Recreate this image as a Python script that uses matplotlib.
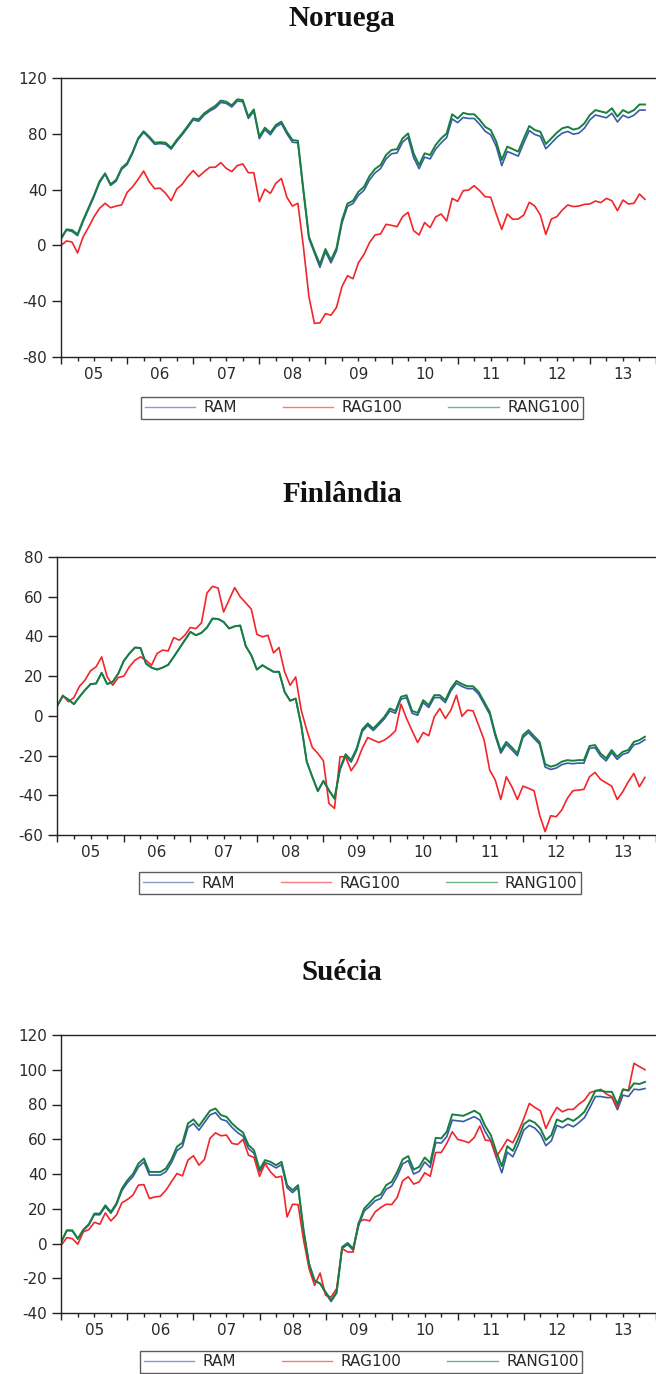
import matplotlib
matplotlib.use("Agg")
import matplotlib.pyplot as plt
import numpy as np

# ---------------- data (monthly, Jan 2005 onwards) ----------------
years = ["05", "06", "07", "08", "09", "10", "11", "12", "13"]
series_names = ["RAM", "RAG100", "RANG100"]

nor_ram = [4.5, 11, 10, 7, 17, 26, 35, 45, 51, 43, 46, 54.5, 58, 66, 76, 81, 77, 72.5, 73, 72.5,
           69, 74.5, 79.3, 84.5, 90, 89, 93.5, 96.3, 98.5, 102.5, 101.8, 99.2, 103.5, 103, 91, 96.3,
           76.5, 83, 79.3, 85, 87.3, 80, 74, 73.5, 38.5, 5, -5.5, -15.7, -4.5, -12.5, -4, 16, 28, 30,
           36, 39.5, 47, 52, 55, 62, 65.7, 66.3, 74, 77.5, 63, 55, 63.3, 62, 69, 73.5, 77.3, 90.7,
           88, 91.7, 91, 91, 86.8, 81.8, 79.3, 71, 57.2, 67.3, 65.7, 64, 73.5, 82.3, 79.5, 78.2,
           69.3, 73.3, 77.5, 80.5, 81.7, 79.7, 80.5, 84, 90, 93.5, 92.5, 91.5, 94.7, 88.5, 93.3,
           91.5, 93.3, 97, 97]
nor_rag100 = [0, 3.2, 2.4, -5.4, 6, 13, 20.6, 26.6, 30.2, 27, 28.2, 29, 38, 42, 47.4, 53.3, 45.7,
              40.7, 41, 37.3, 32, 40.4, 43.8, 49.3, 53.6, 49.3, 52.9, 56, 56, 59.3, 55.2, 52.9, 57.2,
              58.4, 52.1, 52.1, 31.4, 40.3, 37.3, 44.5, 48, 34.5, 28.2, 30.2, -1, -36.7, -55.9, -55.5,
              -49, -50, -44.5, -29.6, -21.7, -23.9, -12.4, -6.4, 2, 7.5, 8.2, 15.1, 14.4, 13.4, 20.6,
              23.7, 10.6, 7.5, 16.4, 12.8, 20.4, 22.5, 17.5, 33.7, 31.6, 39.2, 39.7, 42.8, 39.2, 34.9,
              34.5, 22.5, 11.5, 22.5, 18.7, 18.9, 21.8, 30.9, 28.2, 21.8, 7.9, 18.9, 20.6, 25.4, 29,
              27.8, 28.2, 29.4, 29.7, 31.8, 30.7, 33.7, 32, 24.9, 32.5, 29.7, 30.2, 36.8, 33]
nor_rang100 = [5, 11.5, 11, 8, 18, 27, 36, 46, 51.7, 43.8, 47, 55.5, 59, 67, 76.8, 81.8, 78, 73.6,
               74, 73.6, 70, 75.6, 80.3, 85.6, 91, 90.4, 94.7, 97.5, 100, 103.8, 103, 100.4, 104.7,
               104.2, 92.3, 97.5, 78, 84.4, 80.8, 86.3, 88.7, 81.5, 75.6, 75, 40, 6.3, -4, -13.5,
               -2.6, -10.5, -2, 18.2, 30, 32, 38.5, 42, 49.7, 54.8, 57.6, 64.8, 68.4, 69, 76.7, 80.3,
               66, 57.6, 66, 64.8, 72, 76.7, 80.3, 94, 91, 95, 94, 94, 90, 85, 82.7, 74.4, 61.2, 70.8,
               69, 67.2, 76.7, 85.6, 82.7, 81.5, 72.7, 76.7, 80.8, 84, 85, 83, 84, 87.5, 93.5, 97, 96,
               95, 98.3, 92.3, 97, 95, 97, 101, 101]

fin_ram = [5.1, 10, 8.2, 5.9, 9.6, 13, 16, 16.3, 21.7, 16, 17.1, 21.3, 27.7, 31.4, 34.4, 34.2, 26.3,
           24.3, 23.3, 24.3, 25.7, 29.7, 33.9, 38.1, 42.3, 40.6, 41.8, 44.5, 49, 48.8, 47.3, 44, 45.1,
           45.5, 35.1, 30.5, 23.3, 25.5, 23.8, 22.2, 22.2, 12.1, 7.6, 8.7, -4.7, -23.1, -30.7, -37.9,
           -32.9, -37.6, -41.8, -27.2, -20.3, -23.3, -17.4, -7.9, -4.8, -7.4, -4.5, -1.5, 2.5, 1.3,
           8.4, 9.2, 1.3, 0.3, 6.7, 4.2, 9.2, 9.2, 6.7, 12.6, 16.4, 14.8, 13.7, 13.7, 10.9, 5.9, 0.8,
           -10.1, -18.8, -14.3, -17.1, -20.1, -10.9, -8.4, -11.4, -14.3, -25.8, -27, -26.3, -24.6,
           -23.8, -24.1, -23.8, -23.8, -16.4, -16, -20.2, -22.7, -18.5, -21.9, -19.4, -18.5, -14.6,
           -13.8, -12]
fin_rag100 = [5.1, 10.4, 7.1, 9.2, 14.9, 18, 22.7, 24.7, 29.7, 19.6, 15.4, 19.3, 20, 24.7, 28, 29.7,
              28, 25.5, 31.4, 33.1, 32.7, 39.4, 38.1, 40.6, 44.5, 43.9, 46.8, 61.9, 65.2, 64.4, 52.3,
              58.5, 64.6, 59.9, 56.9, 53.7, 41.1, 39.8, 40.6, 31.7, 34.4, 22.2, 15.4, 19.6, 2.9, -7.2,
              -15.9, -18.9, -22.6, -44.1, -46.6, -20.6, -20.6, -27.6, -23.6, -16.4, -10.9, -12.2,
              -13.4, -12.2, -10.2, -7.5, 5.9, -1.3, -7.5, -13.4, -8.4, -10, -0.5, 3.7, -1.3, 2.9,
              10.4, -0.2, 2.9, 2.5, -4.7, -12.2, -27.3, -32.3, -42.1, -30.7, -35.7, -42.1, -35.4,
              -36.5, -37.7, -49.9, -58.3, -50.3, -50.8, -47.4, -41.6, -37.7, -37.4, -37, -30.7,
              -28.5, -32, -33.7, -35.4, -42.1, -38.2, -33.2, -29, -35.7, -31]
fin_rang100 = [5.1, 10, 8.2, 5.9, 9.6, 13, 16, 16.3, 21.7, 16, 17.1, 21.3, 27.7, 31.4, 34.4, 34.2,
               26.3, 24.3, 23.3, 24.3, 25.7, 29.7, 33.9, 38.1, 42.3, 40.6, 41.8, 44.5, 49, 48.8,
               47.3, 44, 45.1, 45.5, 35.1, 30.5, 23.3, 25.5, 23.8, 22.2, 22.2, 12.1, 7.6, 8.7, -4.7,
               -23.1, -30.7, -37.9, -32.7, -37.4, -41.6, -26.5, -19.3, -22.3, -16.4, -6.9, -3.8,
               -6.4, -3.5, -0.5, 3.7, 2.5, 9.6, 10.4, 2.5, 1.5, 7.9, 5.4, 10.4, 10.4, 7.9, 13.8,
               17.6, 16, 14.9, 14.9, 12.1, 7.1, 2, -8.9, -17.6, -13.1, -15.9, -18.9, -9.7, -7.2,
               -10.2, -13.1, -24.3, -25.6, -24.8, -23.1, -22.3, -22.6, -22.3, -22.3, -15.2, -14.7,
               -18.9, -21.4, -17.2, -20.6, -18.1, -17.2, -13.1, -12.2, -10.5]

sue_ram = [0.9, 7.4, 7.3, 2.5, 7.6, 10.6, 16.6, 16.5, 21.2, 17.4, 22.2, 30.4, 35, 38.4, 44, 46.9,
           39.4, 39.4, 39.4, 41.3, 46.4, 53.5, 55.8, 66.8, 69, 65.2, 69.6, 74, 75.3, 71.5, 70.5,
           66.8, 63.9, 61.7, 54.6, 51.9, 41.3, 46.5, 45.4, 43.5, 45.4, 32.1, 29.3, 32.2, 7, -12.2,
           -21.8, -22.9, -28.7, -33.4, -28.6, -2.8, -0.6, -3.8, 10.3, 18.6, 21.4, 24.6, 25.9, 31.2,
           33, 38.7, 45.8, 47.7, 40, 41.5, 46.9, 43.8, 58.1, 57.8, 61.5, 71, 70.6, 70.2, 71.6, 73,
           71.1, 64.3, 59.1, 49.5, 40.7, 52.6, 49.9, 57, 65.3, 68, 66.4, 63, 56.3, 59.1, 68, 66.6,
           68.6, 67.2, 69.6, 72.4, 78.3, 84.6, 84.6, 84, 84, 77, 85.4, 84.6, 88.8, 88.5, 89.2]
sue_rag100 = [-1, 3.4, 2.8, -0.4, 6.7, 8, 12.2, 11.1, 17.6, 13, 16.3, 23.4, 25.3, 27.8, 33.6, 33.9,
              25.9, 26.8, 27.2, 30.7, 35.5, 40.3, 38.9, 48, 50.5, 45.1, 48.4, 60.5, 63.7, 62, 62.4,
              57.6, 57, 59.9, 50.8, 49.5, 38.7, 46, 41.2, 38, 38.7, 15.3, 22.6, 22.4, 1.9, -14.5,
              -24.1, -17, -29.8, -30.8, -26, -2.9, -4.9, -4.9, 12.4, 13.8, 13, 18.2, 20.7, 22.6,
              22.4, 26.5, 36.1, 38.4, 34.2, 35.5, 40.7, 38.7, 52.4, 52.4, 57.6, 64.3, 59.9, 59.1,
              58, 61, 67.6, 59.5, 59.1, 49.9, 54.7, 59.9, 58, 64.3, 72, 80.6, 78.3, 76.4, 66.2,
              72.9, 78.3, 75.8, 77.2, 77.2, 80.2, 82.5, 86.8, 87.9, 88.7, 86, 84.5, 78.3, 88.7,
              88.3, 103.7, 101.8, 100]
sue_rang100 = [0.9, 7.6, 7.6, 2.8, 8, 11.1, 17.2, 17.2, 22, 18.2, 23, 31.6, 36.4, 39.9, 46, 48.9,
               41.2, 41.2, 41.2, 43.2, 48.4, 55.7, 58, 69.1, 71.4, 67.6, 72, 76.4, 77.7, 73.9, 72.9,
               69.1, 66.2, 63.9, 56.6, 53.7, 42.6, 48, 47, 45.1, 47, 33.6, 30.7, 33.6, 7.7, -11.6,
               -21.2, -23.1, -27.9, -32.7, -27.9, -2, 0.3, -2.9, 11.5, 20.1, 23.4, 26.8, 28.2, 33.6,
               35.5, 41.2, 48.4, 50.3, 42.6, 44.1, 49.5, 46.4, 60.8, 60.5, 64.3, 74.3, 73.9, 73.5,
               74.9, 76.4, 74.5, 67.6, 62.4, 52.8, 44.5, 56, 53.3, 60.5, 68.7, 71, 69.5, 66.2, 59.5,
               62.4, 71.4, 70, 72, 70.6, 72.9, 75.8, 81.6, 87.9, 87.9, 87.3, 87.3, 80.2, 88.7, 87.9,
               92.2, 91.8, 93]

# ---------------- style ----------------
C_BLUE = "#3a5aa8"
C_RED = "#f0262a"
C_GREEN = "#16803f"
TXT = "#2a2a2a"

W, H = 656, 1374
fig = plt.figure(figsize=(W / 100, H / 100), dpi=100)

panels = [
    dict(title="Noruega", ty=18, left=61, top=78, bottom=357, xmax=105.6,
         ylim=(-80, 120), yticks=[-80, -40, 0, 40, 80, 120],
         data=(nor_ram, nor_rag100, nor_rang100), leg=(362, 408)),
    dict(title="Finlândia", ty=495, left=57.3, top=557, bottom=835, xmax=106.0,
         ylim=(-60, 80), yticks=[-60, -40, -20, 0, 20, 40, 60, 80],
         data=(fin_ram, fin_rag100, fin_rang100), leg=(360, 883)),
    dict(title="Suécia", ty=972, left=61.3, top=1035, bottom=1313, xmax=105.4,
         ylim=(-40, 120), yticks=[-40, -20, 0, 20, 40, 60, 80, 100, 120],
         data=(sue_ram, sue_rag100, sue_rang100), leg=(361, 1362)),
]

for p in panels:
    ax = fig.add_axes([p["left"] / W, 1 - p["bottom"] / H,
                       (W - p["left"]) / W, (p["bottom"] - p["top"]) / H])
    ram, rag, rang = p["data"]
    ax.plot(np.arange(len(ram)), ram, color=C_BLUE, lw=1.2, label=series_names[0])
    ax.plot(np.arange(len(rag)), rag, color=C_RED, lw=1.2, label=series_names[1])
    ax.plot(np.arange(len(rang)), rang, color=C_GREEN, lw=1.4, label=series_names[2])
    ax.set_xlim(0, p["xmax"])
    ax.set_ylim(*p["ylim"])
    ax.set_yticks(p["yticks"])
    ax.set_yticklabels([str(v) for v in p["yticks"]])
    ax.spines["right"].set_visible(False)
    for s in ("left", "top", "bottom"):
        ax.spines[s].set_linewidth(1.0)
        ax.spines[s].set_color("#222222")
    ax.tick_params(axis="y", direction="out", length=6.5, width=1.0, pad=3.5,
                   labelsize=11, labelcolor=TXT, color="#222222")
    # year boundaries (major) and quarters (minor)
    ax.set_xticks(np.arange(0, 109, 12))
    ax.set_xticklabels([])
    ax.set_xticks(np.arange(0, 109, 3), minor=True)
    ax.tick_params(axis="x", which="major", direction="out", length=5, width=1.0, color="#222222")
    ax.tick_params(axis="x", which="minor", direction="out", length=3, width=1.0, color="#222222")
    sec = ax.secondary_xaxis("bottom")
    sec.set_xticks(np.arange(6, 108, 12))
    sec.set_xticklabels(years)
    sec.tick_params(length=0, pad=7, labelsize=11, labelcolor=TXT)
    sec.spines["bottom"].set_visible(False)
    for lab in ax.get_yticklabels() + sec.get_xticklabels():
        lab.set_family("DejaVu Sans")

    fig.text(342 / W, 1 - p["ty"] / H, p["title"], ha="center", va="center",
             fontsize=21, fontweight="bold", family="Liberation Serif", color="#111111")

    cx, cy = p["leg"]
    leg = ax.legend(loc="center", bbox_to_anchor=(cx / W, 1 - cy / H),
                    bbox_transform=fig.transFigure, ncol=3, fontsize=11,
                    frameon=True, fancybox=False, edgecolor="#333333",
                    handlelength=3.3, handletextpad=0.55, columnspacing=3.0,
                    borderpad=0.25, borderaxespad=0)
    leg.get_frame().set_linewidth(1.0)
    for t in leg.get_texts():
        t.set_color(TXT)
    for l in leg.get_lines():
        l.set_linewidth(1.0)
        l.set_alpha(0.6)

fig.savefig("out.png", dpi=100)
